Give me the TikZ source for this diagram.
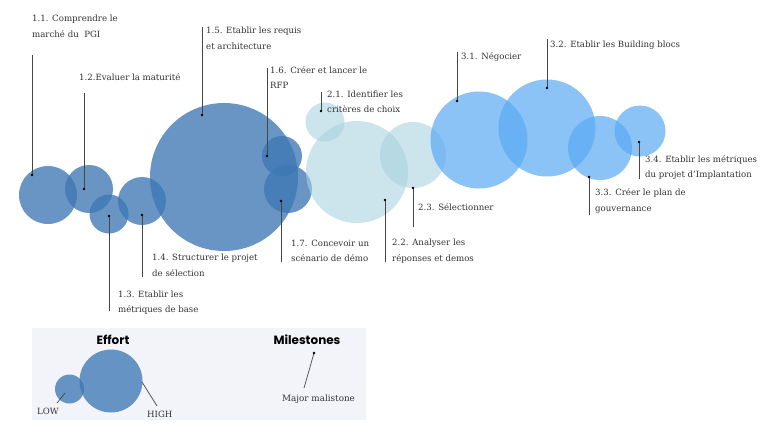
\documentclass[tikz,border=0pt]{standalone}
\usepackage{fontspec}
\setmainfont{DejaVu Serif}
\newfontfamily\poppins{Poppins}
\definecolor{cA}{RGB}{62,120,180}
\definecolor{cB}{RGB}{170,210,222}
\definecolor{cC}{RGB}{90,170,245}
\definecolor{txt}{RGB}{50,50,50}
\definecolor{lc}{RGB}{70,70,70}
\definecolor{legbg}{RGB}{243,244,250}
\begin{document}
\begin{tikzpicture}[x=1pt,y=-1pt,
  bubA/.style={circle,fill=cA,fill opacity=0.78,draw=none,minimum size=#1,inner sep=0},
  bubB/.style={circle,fill=cB,fill opacity=0.6,draw=none,minimum size=#1,inner sep=0},
  bubC/.style={circle,fill=cC,fill opacity=0.7,draw=none,minimum size=#1,inner sep=0},
  lbl/.style={anchor=west,inner sep=0,align=left,font=\fontsize{8.6}{15.5}\selectfont,text=txt},
  lead/.style={draw=lc,line width=0.7pt},
  ttl/.style={inner sep=0,font=\poppins\bfseries\fontsize{12}{14}\selectfont,text=black}
]
\useasboundingbox (0,0) rectangle (768,432);
\fill[white] (0,0) rectangle (768,432);

% legend background
\node[fill=legbg,draw=none,minimum width=334,minimum height=92,inner sep=0,anchor=north west] (legend) at (32,328) {};

% phase 1 bubbles
\node[bubA=58] (b11) at (48,195) {};
\node[bubA=48] (b12) at (89,189) {};
\node[bubA=39] (b13) at (109,214) {};
\node[bubA=48] (b14) at (142,201) {};
\node[bubA=148] (b15) at (224,177) {};
\node[bubA=40] (b16) at (282,156) {};
\node[bubA=48] (b17) at (288,189) {};
% phase 2 bubbles
\node[bubB=39] (b21) at (325,122) {};
\node[bubB=102] (b22) at (357,172) {};
\node[bubB=66] (b23) at (413,155) {};
% phase 3 bubbles
\node[bubC=97] (b31) at (479,140) {};
\node[bubC=97] (b32) at (547,128) {};
\node[bubC=64] (b33) at (600,148) {};
\node[bubC=51] (b34) at (640,131) {};

% labels
\node[lbl] (t11) at (32,26.5) {1.1. Comprendre le\\marché du\ \ PGI};
\node[lbl] (t12) at (79,77) {1.2.Evaluer la maturité};
\node[lbl] (t13) at (118,302.5) {1.3. Etablir les\\métriques de base};
\node[lbl] (t14) at (152,265.5) {1.4. Structurer le projet\\de sélection};
\node[lbl] (t15) at (206,38.5) {1.5. Etablir les requis\\et architecture};
\node[lbl] (t16) at (270,77.5) {1.6. Créer et lancer le\\RFP};
\node[lbl] (t21) at (327,102) {2.1. Identifier les\\critères de choix};
\node[lbl] (t17) at (291,251) {1.7. Concevoir un\\scénario de démo};
\node[lbl] (t22) at (392,251) {2.2. Analyser les\\réponses et demos};
\node[lbl] (t23) at (418,207) {2.3. Sélectionner};
\node[lbl] (t31) at (461,57) {3.1. Négocier};
\node[lbl] (t32) at (550,45) {3.2. Etablir les Building blocs};
\node[lbl] (t33) at (595,201) {3.3. Créer le plan de\\gouvernance};
\node[lbl] (t34) at (645,167.5) {3.4. Etablir les métriques\\du projet d'Implantation};

% leader coordinates: d = dot, e = free end
\coordinate (d11) at (32,175);  \coordinate (e11) at (32,55);
\coordinate (d12) at (84,189);  \coordinate (e12) at (84,93);
\coordinate (d13) at (109,216); \coordinate (e13) at (109,311);
\coordinate (d14) at (142,215); \coordinate (e14) at (142,277);
\coordinate (d15) at (202,115); \coordinate (e15) at (202,27);
\coordinate (d16) at (267,156); \coordinate (e16) at (267,68);
\coordinate (d21) at (321,111); \coordinate (e21) at (321,92);
\coordinate (d17) at (281,201); \coordinate (e17) at (281,262);
\coordinate (d22) at (385,200); \coordinate (e22) at (385,262);
\coordinate (d23) at (413,188); \coordinate (e23) at (413,227);
\coordinate (d31) at (457,101); \coordinate (e31) at (457,52);
\coordinate (d32) at (547,88);  \coordinate (e32) at (547,39);
\coordinate (d33) at (589,177); \coordinate (e33) at (589,215);
\coordinate (d34) at (639,142); \coordinate (e34) at (639,179);
\foreach \k in {11,12,13,14,15,16,21,17,22,23,31,32,33,34}{
  \draw[lead] (e\k) -- (d\k);
  \fill[black] (d\k) circle (1.4);
}

% legend content
\node[ttl] (effort) at (113,340) {Effort};
\node[ttl] (miles) at (307,340) {Milestones};
\node[bubA=29] (lowb) at (69.5,389) {};
\node[bubA=63] (highb) at (111,381) {};
\node[lbl,font=\fontsize{8.6}{10}\selectfont] (low) at (37,411) {LOW};
\node[lbl,font=\fontsize{8.6}{10}\selectfont] (high) at (147,414) {HIGH};
\coordinate (lowa) at (65,393);
\coordinate (lowz) at (57,403);
\draw[lead] (lowa) -- (lowz);
\coordinate (higha) at (142,382);
\coordinate (highz) at (157,406);
\draw[lead] (higha) -- (highz);
\coordinate (mdot) at (314,353);
\coordinate (mend) at (304,388);
\draw[lead] (mdot) -- (mend);
\fill[black] (mdot) circle (1.4);
\node[lbl,font=\fontsize{8.8}{10}\selectfont] (major) at (282,399) {Major malistone};
\end{tikzpicture}
\end{document}
